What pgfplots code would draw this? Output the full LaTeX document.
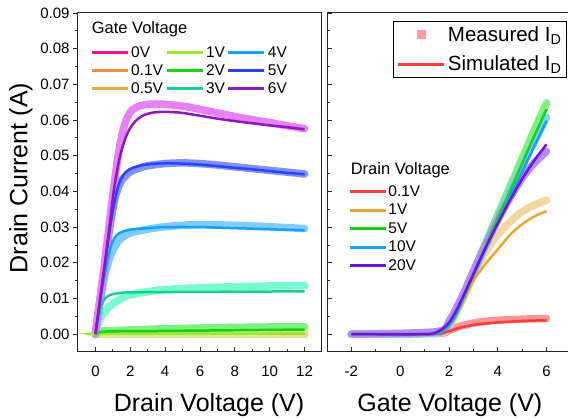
\documentclass[border=0pt]{standalone}
\usepackage{fontspec}
\setmainfont{Liberation Sans}
\usepackage{pgfplots}
\pgfplotsset{compat=1.18}
% simulated (left)
\definecolor{c0}{HTML}{F0138A}
\definecolor{c01}{HTML}{F58C3C}
\definecolor{c05}{HTML}{E6AA32}
\definecolor{c1}{HTML}{A0E632}
\definecolor{c2}{HTML}{14D214}
\definecolor{c3}{HTML}{14D28C}
\definecolor{c4}{HTML}{14A0FF}
\definecolor{c5}{HTML}{2846FF}
\definecolor{c6}{HTML}{9014C8}
% measured (left)
\definecolor{m0}{HTML}{F890C8}
\definecolor{m01}{HTML}{FAC090}
\definecolor{m05}{HTML}{F0D890}
\definecolor{m1}{HTML}{D0F090}
\definecolor{m2}{HTML}{80F080}
\definecolor{m3}{HTML}{78FAD2}
\definecolor{m4}{HTML}{80CCFF}
\definecolor{m5}{HTML}{8090FF}
\definecolor{m6}{HTML}{E682F5}
% right
\definecolor{r01}{HTML}{FF3C3C}
\definecolor{r1}{HTML}{E6AA32}
\definecolor{r5}{HTML}{14D214}
\definecolor{r10}{HTML}{14A0FF}
\definecolor{r20}{HTML}{6E14DC}
\definecolor{q01}{HTML}{FF9696}
\definecolor{q1}{HTML}{F2D8A0}
\definecolor{q5}{HTML}{80F080}
\definecolor{q10}{HTML}{80D0FF}
\definecolor{q20}{HTML}{B48CFF}
\definecolor{measred}{HTML}{FFA0A0}
\begin{document}
\begin{tikzpicture}
\pgfplotsset{
  base/.style={
    scale only axis, height=339pt, ymin=-0.005, ymax=0.09,
    ytick={0,0.01,0.02,0.03,0.04,0.05,0.06,0.07,0.08,0.09},
    scaled y ticks=false,
    minor y tick num=1, minor x tick num=1,
    axis line style={line width=1pt, black!85},
    every tick/.style={black!85, line width=0.8pt},
    major tick length=5pt, minor tick length=3pt,
    xtick pos=left, ytick pos=left,
    xtick align=inside,
    tick label style={font=\fontsize{15}{18}\selectfont},
    /pgf/number format/assume math mode=true,
    xticklabel style={anchor=north, inner sep=0pt, yshift=-14pt},
    label style={font=\fontsize{25}{30}\selectfont},
    legend cell align=left,
    legend image code/.code={\draw[##1] (0pt,0pt) -- (36pt,0pt);},
  },
  sim/.style={line width=2.5pt, forget plot, smooth},
  meas/.style={line width=7.5pt, forget plot, smooth, line cap=round, line join=round},
  leg/.style={line width=3pt},
}
% ---------------- left panel ----------------
\begin{axis}[base, at={(0pt,0pt)}, anchor=south west, width=244pt,
  xmin=-1, xmax=13, xtick={0,2,4,6,8,10,12},
  ytick align=outside,
  yticklabel style={/pgf/number format/.cd, fixed, fixed zerofill, precision=2, /tikz/.cd},
  xlabel={Drain Voltage (V)}, ylabel={Drain Current (A)},
  xlabel style={at={(axis description cs:0.537,-0.176)}, anchor=base},
  ylabel style={at={(axis description cs:-0.234,0.513)}, anchor=center},
  legend columns=3,
  legend style={at={(axis description cs:0.049,0.904)}, anchor=north west, draw=none, fill=none,
    inner sep=0pt, font=\fontsize{15.5}{18}\selectfont, nodes={inner sep=1pt}, column sep=1pt, row sep=3.5pt},
]
% measured
\addplot[meas, m0] coordinates {(0,0) (12,0)};
\addplot[meas, m01] coordinates {(0,0) (12,0)};
\addplot[meas, m05] coordinates {(0,0) (12,0)};
\addplot[meas, m1] coordinates {(0,0) (12,0.0001)};
\addplot[meas, m2] coordinates {(0,0) (0.3,0.0008) (1,0.0010) (4,0.0015) (8,0.0019) (12,0.0021)};
\addplot[meas, m3] coordinates {(0,0) (0.2,0.0035) (0.5,0.0062) (1,0.0085) (1.5,0.0100) (2,0.0110) (3,0.0119) (4,0.0125) (6,0.0130) (8,0.0133) (10,0.0135) (12,0.0136)};
\addplot[meas, m4] coordinates {(0,0) (0.25,0.0085) (0.5,0.0155) (0.7,0.0195) (1,0.0235) (1.4,0.0265) (2,0.0283) (3,0.0294) (4,0.0301) (5,0.0305) (6,0.0307) (8,0.0305) (10,0.0301) (12,0.0296)};
\addplot[meas, m5] coordinates {(0,0) (0.25,0.0092) (0.5,0.018) (0.8,0.029) (1,0.035) (1.2,0.0395) (1.5,0.0430) (2,0.0455) (2.5,0.0465) (3,0.0472) (4,0.0478) (5,0.0480) (6,0.0478) (7,0.0474) (8,0.0469) (9,0.0464) (10,0.0459) (11,0.0454) (12,0.0449)};
\addplot[meas, m6] coordinates {(0,0) (0.25,0.0095) (0.5,0.019) (0.8,0.031) (1.05,0.041) (1.3,0.050) (1.55,0.0565) (1.8,0.0605) (2.1,0.0628) (2.5,0.0639) (3,0.0644) (3.5,0.0645) (4,0.0644) (5,0.0639) (6,0.0630) (7,0.0620) (8,0.0610) (9,0.0601) (10,0.0593) (11,0.0584) (12,0.0576)};
% simulated
\addplot[sim, c0] coordinates {(0,0) (12,0)};
\addplot[sim, c01] coordinates {(0,0) (12,0)};
\addplot[sim, c05] coordinates {(0,0) (12,0)};
\addplot[sim, c1] coordinates {(0,0) (0.5,0.0001) (12,0.0002)};
\addplot[sim, c2] coordinates {(0,0) (0.2,0.0005) (0.5,0.0007) (1,0.0008) (4,0.0009) (8,0.0011) (12,0.0013)};
\addplot[sim, c3] coordinates {(0,0) (0.15,0.0042) (0.3,0.0074) (0.5,0.0096) (0.7,0.0106) (1,0.0112) (1.5,0.0116) (2,0.0117) (4,0.0118) (8,0.0119) (12,0.0120)};
\addplot[sim, c4] coordinates {(0,0) (0.25,0.0085) (0.5,0.0162) (0.7,0.021) (0.9,0.0248) (1.1,0.027) (1.4,0.0284) (2,0.0293) (3,0.0297) (4,0.0300) (6,0.0300) (8,0.0297) (10,0.0294) (12,0.0291)};
\addplot[sim, c5] coordinates {(0,0) (0.25,0.009) (0.5,0.0178) (0.8,0.0285) (1,0.0345) (1.2,0.0395) (1.4,0.0428) (1.7,0.0452) (2,0.0463) (2.5,0.0471) (3,0.0476) (4,0.0479) (5,0.0478) (6,0.0475) (7,0.0471) (8,0.0466) (9,0.0462) (10,0.0457) (11,0.0452) (12,0.0448)};
\addplot[sim, c6] coordinates {(0,0) (0.25,0.0092) (0.5,0.0183) (0.8,0.030) (1.05,0.040) (1.3,0.0473) (1.5,0.0515) (1.75,0.0553) (2,0.0578) (2.3,0.0597) (2.7,0.0612) (3.2,0.0620) (3.8,0.0623) (4.5,0.0622) (5,0.0620) (6,0.0612) (7,0.0604) (8,0.0597) (9,0.0591) (10,0.0585) (11,0.0580) (12,0.0574)};
% legend (row-major order for column-major look)
\addlegendimage{c0, leg}\addlegendentry{0V}
\addlegendimage{c1, leg}\addlegendentry{1V}
\addlegendimage{c4, leg}\addlegendentry{4V}
\addlegendimage{c01, leg}\addlegendentry{0.1V}
\addlegendimage{c2, leg}\addlegendentry{2V}
\addlegendimage{c5, leg}\addlegendentry{5V}
\addlegendimage{c05, leg}\addlegendentry{0.5V}
\addlegendimage{c3, leg}\addlegendentry{3V}
\addlegendimage{c6, leg}\addlegendentry{6V}
\node[anchor=west, inner sep=0pt, font=\fontsize{16.5}{20}\selectfont] at (axis description cs:0.056,0.952) {Gate Voltage};
\end{axis}
% ---------------- right panel ----------------
\begin{axis}[base, at={(249pt,0pt)}, anchor=south west, width=241pt,
  xmin=-3, xmax=6.88, xtick={-2,0,2,4,6},
  ytick align=inside, yticklabels={},
  xlabel={Gate Voltage (V)},
  xlabel style={at={(axis description cs:0.51,-0.176)}, anchor=base},
  legend columns=1,
  legend style={at={(axis description cs:0.088,0.495)}, anchor=north west, draw=none, fill=none,
    inner sep=0pt, font=\fontsize{15.5}{18}\selectfont, nodes={inner sep=1pt}, row sep=4.3pt},
]
\addplot[meas, q01] coordinates {(-2,0) (1.5,0.0002) (2,0.0011) (2.5,0.0023) (3,0.0031) (3.5,0.0036) (4,0.0039) (5,0.0042) (6,0.0044)};
\addplot[meas, q1] coordinates {(-2,0) (1.5,0.0003) (2,0.0023) (2.5,0.0088) (3,0.0163) (3.5,0.0230) (4,0.0278) (4.5,0.0315) (5,0.0343) (5.5,0.0362) (6,0.0375)};
\addplot[meas, q5] coordinates {(-2,0) (1.5,0.0004) (2,0.003) (2.5,0.0095) (3,0.0175) (3.5,0.0255) (4,0.0335) (4.5,0.0413) (5,0.0492) (5.5,0.0572) (6,0.0648)};
\addplot[meas, q10] coordinates {(-2,0) (1.5,0.0004) (2,0.003) (2.5,0.0094) (3,0.0172) (3.5,0.0250) (4,0.0325) (4.5,0.0398) (5,0.0470) (5.5,0.0540) (6,0.0608)};
\addplot[meas, q20] coordinates {(-2,0) (1.5,0.0007) (2,0.0036) (2.5,0.0100) (3,0.0176) (3.5,0.0250) (4,0.0320) (4.5,0.0382) (5,0.0437) (5.5,0.0480) (6,0.0512)};
\addplot[sim, r01] coordinates {(-2,0) (1,0) (1.5,0.0001) (1.75,0.0003) (2,0.0008) (2.25,0.0014) (2.5,0.0019) (3,0.0026) (3.5,0.0030) (4,0.0033) (5,0.0037) (6,0.0039)};
\addplot[sim, r1] coordinates {(-2,0) (1,0) (1.5,0.0003) (1.75,0.0009) (2,0.0022) (2.25,0.0046) (2.5,0.0080) (2.75,0.0116) (3,0.0150) (3.5,0.0197) (4,0.0237) (4.5,0.0278) (5,0.0308) (5.5,0.0330) (6,0.0345)};
\addplot[sim, r5] coordinates {(-2,0) (1,0) (1.5,0.0003) (1.75,0.001) (2,0.0025) (2.25,0.005) (2.5,0.0088) (2.75,0.0128) (3,0.0168) (3.5,0.0247) (4,0.0325) (4.5,0.040) (5,0.0478) (5.5,0.0555) (6,0.063)};
\addplot[sim, r10] coordinates {(-2,0) (1,0) (1.5,0.0003) (1.75,0.001) (2,0.0025) (2.25,0.005) (2.5,0.0087) (2.75,0.0126) (3,0.0165) (3.5,0.0240) (4,0.0312) (4.5,0.0383) (5,0.0455) (5.5,0.0527) (6,0.0598)};
\addplot[sim, r20] coordinates {(-2,0) (1,0) (1.5,0.0006) (1.75,0.0016) (2,0.0032) (2.25,0.006) (2.5,0.0094) (2.75,0.0131) (3,0.0168) (3.5,0.0242) (4,0.0310) (4.5,0.0375) (5,0.0435) (5.5,0.0487) (6,0.0532)};
\addlegendimage{r01, leg}\addlegendentry{0.1V}
\addlegendimage{r1, leg}\addlegendentry{1V}
\addlegendimage{r5, leg}\addlegendentry{5V}
\addlegendimage{r10, leg}\addlegendentry{10V}
\addlegendimage{r20, leg}\addlegendentry{20V}
\node[anchor=west, inner sep=0pt, font=\fontsize{16.5}{20}\selectfont] at (axis description cs:0.098,0.535) {Drain Voltage};
\end{axis}
% ---------------- overlay legend (Measured / Simulated) ----------------
\begin{axis}[scale only axis, at={(249pt,0pt)}, anchor=south west, width=241pt, height=339pt,
  xmin=-3, xmax=6.88, ymin=-0.005, ymax=0.09, hide axis,
  legend cell align=left,
  legend style={at={(axis description cs:0.995,0.976)}, anchor=north east, draw=black, line width=0.8pt,
    fill=white, inner sep=3pt, font=\fontsize{20.5}{24}\selectfont, nodes={inner sep=2pt}, row sep=9pt},
]
\addplot[draw=none, forget plot] coordinates {(0,0)};
\addlegendimage{legend image code/.code={\fill[measred] (19.5pt,-4pt) rectangle (27.5pt,4pt);}}
\addlegendentry{Measured I\textsubscript{D}}
\addlegendimage{legend image code/.code={\draw[r01, line width=3pt] (0pt,0pt) -- (46.7pt,0pt);}}
\addlegendentry{Simulated I\textsubscript{D}}
\end{axis}
\pgfresetboundingbox
\useasboundingbox (-78pt,-68pt) rectangle (490pt,352pt);
\end{tikzpicture}
\end{document}
